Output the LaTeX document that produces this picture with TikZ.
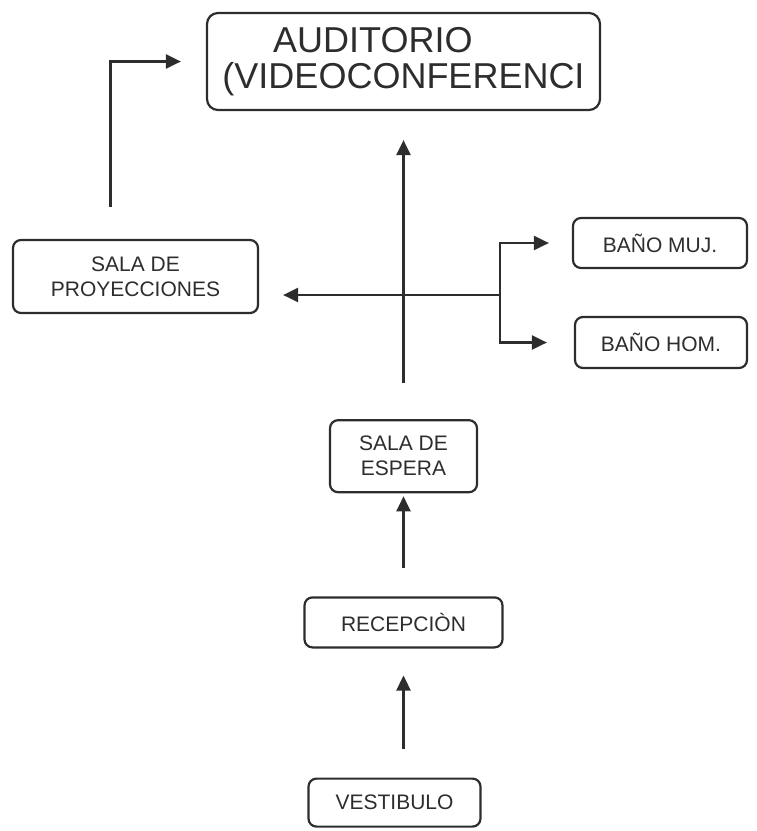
\documentclass[tikz,border=0pt]{standalone}
\usepackage{fontspec}
\setmainfont{Liberation Sans}
\usetikzlibrary{arrows.meta,positioning}
\definecolor{myink}{RGB}{45,45,45}

\begin{document}
\begin{tikzpicture}[
  x=1pt, y=-1pt,
  every node/.style={align=center, text=myink},
  room/.style={draw=myink, line width=2.2pt, rounded corners=8pt, inner sep=0pt, font=\fontsize{21}{25}\selectfont},
  bigroom/.style={room, rounded corners=11pt, font=\fontsize{36}{36}\selectfont, minimum width=393pt, minimum height=97pt},
  edge/.style={-{Triangle[length=15pt,width=14pt]}, line width=2.4pt, myink}
]
\useasboundingbox (0,0) rectangle (756,831);

\node[bigroom] (audit) at (403.5,61.5) {AUDITORIO\hspace*{1.7em}\\(VIDEOCONFERENCI};
\node[room, minimum width=147pt, minimum height=72pt, below=308pt of audit] (espera) {SALA DE\\ESPERA};
\node[room, minimum width=198pt, minimum height=50pt, below=103pt of espera] (recep) {RECEPCIÒN};
\node[room, minimum width=172pt, minimum height=48pt, below=129pt of recep, xshift=-9pt] (vest) {VESTIBULO};
\node[room, minimum width=245pt, minimum height=73pt] (proy) at (135.5,276.5) {SALA DE\\PROYECCIONES};
\node[room, minimum width=174pt, minimum height=50pt] (muj) at (660,243) {BAÑO MUJ.};
\node[room, minimum width=172pt, minimum height=51pt] (hom) at (661,342.5) {BAÑO HOM.};
\coordinate (hub) at (500,295);

\draw[edge, shorten <=29pt, shorten >=27pt] (vest.north -| recep.south) -- (recep.south);
\draw[edge, shorten <=28pt, shorten >=3pt] (recep) -- (espera);
\draw[edge, shorten <=36pt, shorten >=29pt] (espera) -- (audit);
\draw[edge, shorten >=24pt] (hub) -- (hub -| proy.east);
\draw[edge, shorten >=23pt] (hub) |- (muj.west);
\draw[edge, shorten >=27pt] (hub) |- (hom.west);
\draw[edge, shorten <=32pt, shorten >=25pt] ([xshift=-25pt]proy.north) |- (audit.west);
\end{tikzpicture}
\end{document}
